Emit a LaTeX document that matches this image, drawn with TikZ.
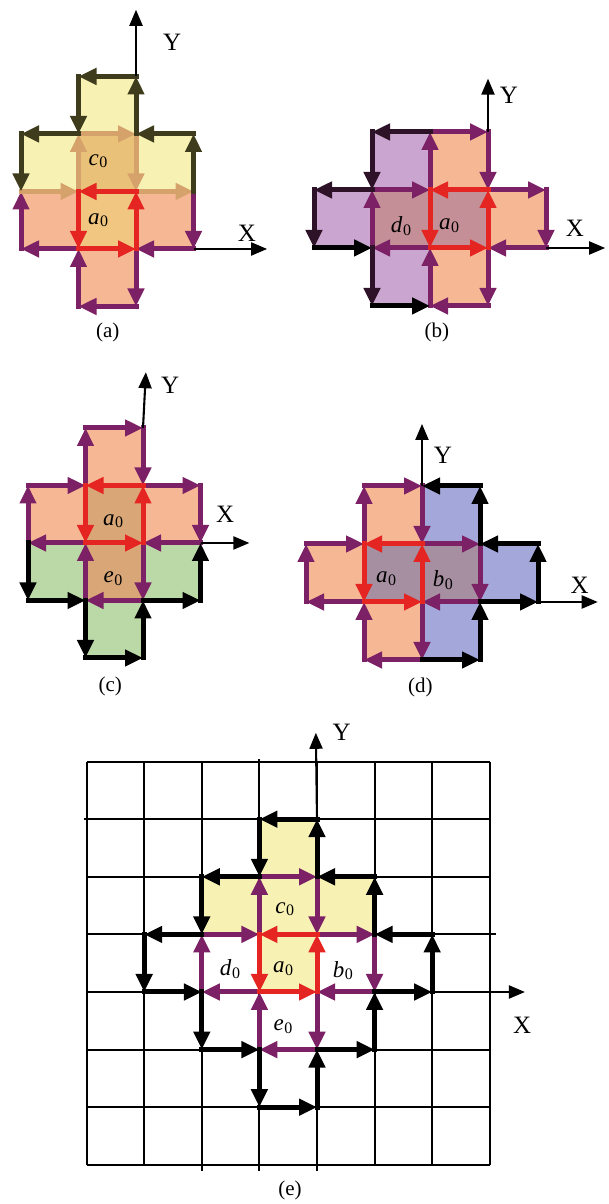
\documentclass[tikz,border=0pt]{standalone}
\usepackage{fontspec}
\setmainfont{Liberation Serif}
\usetikzlibrary{arrows.meta}
\definecolor{redc}{HTML}{E42521}
\definecolor{purc}{HTML}{7D2166}
\definecolor{fadec}{HTML}{D6A26C}
\definecolor{olivec}{HTML}{3E3C1C}
\definecolor{dpurc}{HTML}{2E1228}
\definecolor{pinkc}{HTML}{F6B795}
\definecolor{yelc}{HTML}{F7F2B3}
\definecolor{ovac}{HTML}{EAC178}
\definecolor{ovaa}{HTML}{F0C680}
\definecolor{lavc}{HTML}{C9A5CF}
\definecolor{ovb}{HTML}{C58F97}
\definecolor{greenc}{HTML}{BAD9A6}
\definecolor{ovc}{HTML}{D8A677}
\definecolor{bluec}{HTML}{A3A7DA}
\definecolor{ovd}{HTML}{A68FA0}
\tikzset{
  edgearr/.style={line width=5pt, line cap=rect, -{Triangle[length=18pt,width=16pt]}},
  redarr/.style={edgearr, draw=redc},
  purarr/.style={edgearr, draw=purc},
  fadearr/.style={edgearr, draw=fadec},
  blkarr/.style={edgearr, draw=black},
  olvarr/.style={edgearr, draw=olivec},
  dparr/.style={edgearr, draw=dpurc},
  axisarr/.style={line width=2.1pt, -{Triangle[length=16pt,width=13pt]}},
  axlbl/.style={font=\fontsize{25}{29}\selectfont, inner sep=0pt},
  celllbl/.style={font=\fontsize{23}{27}\selectfont, inner sep=0pt},
  caplbl/.style={font=\fontsize{21}{25}\selectfont, inner sep=0pt},
  gridline/.style={line width=2pt, draw=black},
}
\newcommand\mycell[3]{\fill[#1] (#2,#3) rectangle ++(1,1);}
\newcommand\myarr[5]{\draw[#1] (#2,#3) -- (#4,#5);}
\newcommand\lb[1]{\textit{#1}\kern0.5pt\raisebox{-0.25ex}{\fontsize{16}{18}\selectfont 0}}
% center a0 circulation
\newcommand\redring{\myarr{redarr}{0}{1}{-1}{1}\myarr{redarr}{-1}{1}{-1}{0}\myarr{redarr}{-1}{0}{0}{0}\myarr{redarr}{0}{0}{0}{1}}
% first ring (clockwise outer edges)
\newcommand\ringC[1]{\myarr{#1}{-1}{1}{-1}{2}\myarr{#1}{-1}{2}{0}{2}\myarr{#1}{0}{2}{0}{1}}
\newcommand\ringB[1]{\myarr{#1}{0}{1}{1}{1}\myarr{#1}{1}{1}{1}{0}\myarr{#1}{1}{0}{0}{0}}
\newcommand\ringE[1]{\myarr{#1}{0}{0}{0}{-1}\myarr{#1}{0}{-1}{-1}{-1}\myarr{#1}{-1}{-1}{-1}{0}}
\newcommand\ringD[1]{\myarr{#1}{-1}{0}{-2}{0}\myarr{#1}{-2}{0}{-2}{1}\myarr{#1}{-2}{1}{-1}{1}}
% second ring (counter-clockwise outer edges)
\newcommand\tTop[1]{\myarr{#1}{0}{3}{-1}{3}\myarr{#1}{-1}{3}{-1}{2}\myarr{#1}{0}{2}{0}{3}}
\newcommand\tUL[1]{\myarr{#1}{-1}{2}{-2}{2}\myarr{#1}{-2}{2}{-2}{1}}
\newcommand\tUR[1]{\myarr{#1}{1}{2}{0}{2}\myarr{#1}{1}{1}{1}{2}}
\newcommand\tL[1]{\myarr{#1}{-2}{1}{-3}{1}\myarr{#1}{-3}{1}{-3}{0}\myarr{#1}{-3}{0}{-2}{0}}
\newcommand\tLL[1]{\myarr{#1}{-2}{0}{-2}{-1}\myarr{#1}{-2}{-1}{-1}{-1}}
\newcommand\tR[1]{\myarr{#1}{2}{1}{1}{1}\myarr{#1}{1}{0}{2}{0}\myarr{#1}{2}{0}{2}{1}}
\newcommand\tLR[1]{\myarr{#1}{0}{-1}{1}{-1}\myarr{#1}{1}{-1}{1}{0}}
\newcommand\tBot[1]{\myarr{#1}{-1}{-1}{-1}{-2}\myarr{#1}{-1}{-2}{0}{-2}\myarr{#1}{0}{-2}{0}{-1}}
\begin{document}
\begin{tikzpicture}[x=1pt,y=1pt]
\useasboundingbox (0,0) rectangle (608,1204);
\fill[white] (0,0) rectangle (608,1204);

% ---------------- (a)
\begin{scope}[shift={(136,955)},x=57.5pt,y=57.5pt]
  \mycell{pinkc}{-2}{0}\mycell{pinkc}{0}{0}\mycell{pinkc}{-1}{-1}
  \mycell{yelc}{-1}{2}\mycell{yelc}{-2}{1}\mycell{yelc}{0}{1}
  \mycell{ovac}{-1}{1}\mycell{ovaa}{-1}{0}
  \ringC{fadearr}
  \myarr{fadearr}{0}{1}{1}{1}\myarr{purarr}{1}{1}{1}{0}\myarr{purarr}{1}{0}{0}{0}
  \ringE{purarr}
  \myarr{purarr}{-1}{0}{-2}{0}\myarr{purarr}{-2}{0}{-2}{1}\myarr{fadearr}{-2}{1}{-1}{1}
  \tTop{olvarr}\tUL{olvarr}\tUR{olvarr}
  \redring
  \coordinate (ayb) at (0,3); \coordinate (ayt) at (0,4.16);
  \coordinate (axb) at (1,0); \coordinate (axt) at (2.28,0);
  \draw[axisarr] (ayb) -- (ayt);
  \draw[axisarr] (axb) -- (axt);
  \node[axlbl] (aY) at (0.63,3.6) {Y};
  \node[axlbl] (aX) at (1.93,0.28) {X};
  \node[celllbl] (ac) at (-0.66,1.53) {\lb{c}};
  \node[celllbl] (aa) at (-0.66,0.5) {\lb{a}};
  \node[caplbl] (acap) at (-0.49,-1.46) {(a)};
\end{scope}

% ---------------- (b)
\begin{scope}[shift={(488,956)},x=58pt,y=58pt]
  \mycell{pinkc}{-1}{1}\mycell{pinkc}{0}{0}\mycell{pinkc}{-1}{-1}
  \mycell{lavc}{-2}{1}\mycell{lavc}{-3}{0}\mycell{lavc}{-2}{-1}
  \mycell{ovb}{-2}{0}\mycell{ovb}{-1}{0}
  \ringC{purarr}\ringB{purarr}\ringE{purarr}\ringD{purarr}
  \tUL{dparr}
  \myarr{dparr}{-2}{1}{-3}{1}\myarr{dparr}{-3}{1}{-3}{0}\myarr{blkarr}{-3}{0}{-2}{0}
  \myarr{dparr}{-2}{0}{-2}{-1}\myarr{blkarr}{-2}{-1}{-1}{-1}
  \redring
  \coordinate (byb) at (0,2); \coordinate (byt) at (0,2.92);
  \coordinate (bxb) at (1,0); \coordinate (bxt) at (2.02,0);
  \draw[axisarr] (byb) -- (byt);
  \draw[axisarr] (bxb) -- (bxt);
  \node[axlbl] (bY) at (0.36,2.64) {Y};
  \node[axlbl] (bX) at (1.5,0.34) {X};
  \node[celllbl] (bd) at (-1.5,0.38) {\lb{d}};
  \node[celllbl] (ba) at (-0.67,0.38) {\lb{a}};
  \node[caplbl] (bcap) at (-0.88,-1.45) {(b)};
\end{scope}

% ---------------- (c)
\begin{scope}[shift={(143,661)},x=57.5pt,y=57.5pt]
  \mycell{pinkc}{-1}{1}\mycell{pinkc}{-2}{0}\mycell{pinkc}{0}{0}
  \mycell{greenc}{-2}{-1}\mycell{greenc}{0}{-1}\mycell{greenc}{-1}{-2}
  \mycell{ovc}{-1}{0}\mycell{ovc}{-1}{-1}
  \ringC{purarr}\ringB{purarr}\ringE{purarr}\ringD{purarr}
  \tLL{blkarr}\tLR{blkarr}\tBot{blkarr}
  \redring
  \coordinate (cyb) at (0,2); \coordinate (cyt) at (0.05,2.97);
  \coordinate (cxb) at (1,0); \coordinate (cxt) at (1.85,0);
  \draw[axisarr] (cyb) -- (cyt);
  \draw[axisarr] (cxb) -- (cxt);
  \node[axlbl] (cY) at (0.47,2.75) {Y};
  \node[axlbl] (cX) at (1.43,0.49) {X};
  \node[celllbl] (ca) at (-0.52,0.38) {\lb{a}};
  \node[celllbl] (ce) at (-0.52,-0.62) {\lb{e}};
  \node[caplbl] (ccap) at (-0.57,-2.5) {(c)};
\end{scope}

% ---------------- (d)
\begin{scope}[shift={(422,602)},x=58pt,y=58pt]
  \mycell{pinkc}{-1}{1}\mycell{pinkc}{-2}{0}\mycell{pinkc}{-1}{-1}
  \mycell{bluec}{0}{1}\mycell{bluec}{1}{0}\mycell{bluec}{0}{-1}
  \mycell{ovd}{-1}{0}\mycell{ovd}{0}{0}
  \ringC{purarr}\ringB{purarr}\ringE{purarr}\ringD{purarr}
  \tUR{blkarr}\tR{blkarr}\tLR{blkarr}
  \redring
  \coordinate (dyb) at (0,2); \coordinate (dyt) at (0,3.07);
  \coordinate (dxb) at (2,0); \coordinate (dxt) at (3.03,0);
  \draw[axisarr] (dyb) -- (dyt);
  \draw[axisarr] (dxb) -- (dxt);
  \node[axlbl] (dY) at (0.36,2.53) {Y};
  \node[axlbl] (dX) at (2.72,0.29) {X};
  \node[celllbl] (da) at (-0.62,0.4) {\lb{a}};
  \node[celllbl] (db) at (0.36,0.38) {\lb{b}};
  \node[caplbl] (dcap) at (-0.03,-1.48) {(d)};
\end{scope}

% ---------------- (e)
\begin{scope}[shift={(317,212)},x=57.6pt,y=57.6pt]
  \mycell{yelc}{-1}{2}\mycell{yelc}{-2}{1}\mycell{yelc}{0}{1}
  \mycell{yelc}{-1}{1}\mycell{yelc}{-1}{0}
  \draw[gridline, step=1] (-4,-3) grid (3,4);
  \draw[gridline] (-4.05,3) -- (-4,3);
  \draw[gridline] (3,1) -- (3.1,1);
  \draw[gridline] (-2,-3) -- (-2,-3.1);
  \draw[gridline] (-1,-3) -- (-1,-3.1);
  \draw[gridline] (0,-3) -- (0,-3.1);
  \draw[gridline] (-1,4) -- (-1,4.05);
  \ringC{purarr}\ringB{purarr}\ringE{purarr}\ringD{purarr}
  \tTop{blkarr}\tUL{blkarr}\tUR{blkarr}\tL{blkarr}
  \tLL{blkarr}\tR{blkarr}\tLR{blkarr}\tBot{blkarr}
  \redring
  \coordinate (eyb) at (0,3); \coordinate (eyt) at (-0.02,4.5);
  \coordinate (exb) at (2,0); \coordinate (ext) at (3.61,0);
  \draw[axisarr] (eyb) -- (eyt);
  \draw[axisarr] (exb) -- (ext);
  \node[axlbl] (eY) at (0.43,4.5) {Y};
  \node[axlbl] (eX) at (3.56,-0.57) {X};
  \node[celllbl] (ea) at (-0.59,0.4) {\lb{a}};
  \node[celllbl] (ec) at (-0.56,1.44) {\lb{c}};
  \node[celllbl] (ed) at (-1.51,0.4) {\lb{d}};
  \node[celllbl] (eb) at (0.45,0.37) {\lb{b}};
  \node[celllbl] (ee) at (-0.59,-0.6) {\lb{e}};
  \node[caplbl] (ecap) at (-0.47,-3.44) {(e)};
\end{scope}
\end{tikzpicture}
\end{document}
